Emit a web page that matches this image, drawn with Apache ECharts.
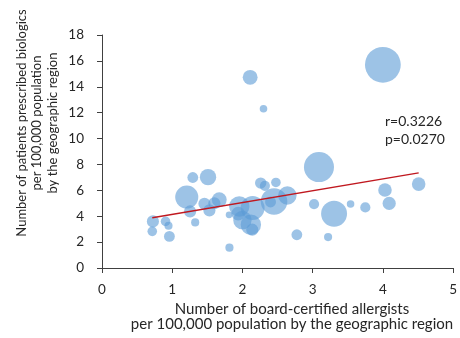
<!DOCTYPE html>
<html>
<head>
<meta charset="utf-8">
<script src="https://cdn.jsdelivr.net/npm/echarts@6/dist/echarts.min.js"></script>
<style>
  html, body { margin: 0; padding: 0; background: #fff; }
  #chart { width: 460px; height: 338px; }
</style>
</head>
<body>
<div id="chart"></div>
<script>
// Allergists per 100,000 population (x) for each region
const allergists = [
  4.00, 2.11, 2.30, 3.09, 4.51, 4.03, 4.09, 3.75, 3.54, 3.305,
  3.22, 3.02, 2.775, 1.815, 0.96, 0.716, 0.725, 0.905, 0.947, 1.327,
  1.293, 1.51, 1.207, 1.255, 1.459, 1.53, 1.67, 1.60, 1.81, 1.955,
  2.00, 2.12, 2.14, 2.145, 2.26, 2.32, 2.477, 2.64, 2.45, 2.40,
  1.94
];
// Patients prescribed biologics per 100,000 population (y)
const biologics = [
  15.7, 14.73, 12.3, 7.8, 6.48, 6.02, 4.99, 4.68, 4.94, 4.19,
  2.39, 4.94, 2.57, 1.57, 2.44, 2.83, 3.6, 3.6, 3.26, 3.52,
  6.99, 7.02, 5.48, 4.37, 4.96, 4.45, 5.27, 5.0, 4.11, 4.75,
  3.7, 3.34, 2.96, 4.63, 6.56, 6.35, 6.61, 5.6, 5.14, 5.1,
  4.2
];
// Regional population (millions), shown as bubble area
const population = [
  13.9, 2.4, 0.62, 9.8, 2.0, 2.0, 1.9, 1.13, 0.62, 7.3,
  0.72, 1.13, 1.27, 0.72, 1.27, 1.0, 1.6, 1.0, 0.72, 0.72,
  1.27, 2.9, 5.8, 1.6, 1.6, 1.6, 2.4, 1.6, 0.49, 4.5,
  3.7, 4.5, 1.6, 6.2, 1.4, 1.13, 1.0, 3.7, 7.65, 1.3,
  2.0
];
// Fitted trend line y = a + b x
const trendIntercept = 3.236;
const trendSlope = 0.912;
const statsText = ['r=0.3226', 'p=0.0270'];

const xTicks = [0, 1, 2, 3, 4, 5];
const yTicks = [0, 2, 4, 6, 8, 10, 12, 14, 16, 18];

const points = allergists.map((x, i) => [x, biologics[i], population[i]]);
const xMinData = Math.min(...allergists);
const xMaxData = Math.max(...allergists);
const trend = [
  [xMinData, trendIntercept + trendSlope * xMinData],
  [xMaxData, trendIntercept + trendSlope * xMaxData]
];

const FONT = 'Lato';
const TXT = '#262626';

const chart = echarts.init(document.getElementById('chart'), null, { renderer: 'canvas' });
chart.setOption({
  animation: false,
  textStyle: { fontFamily: FONT },
  grid: { left: 102, right: 6, top: 35, bottom: 70, containLabel: false },
  xAxis: {
    type: 'value',
    min: xTicks[0], max: xTicks[xTicks.length - 1], interval: 1,
    axisLine: { lineStyle: { color: '#404040', width: 1 } },
    axisTick: { show: true, length: 5, lineStyle: { color: '#404040' } },
    axisLabel: { color: TXT, fontSize: 13.5, fontFamily: FONT, margin: 15 },
    splitLine: { show: false }
  },
  yAxis: {
    type: 'value',
    min: yTicks[0], max: yTicks[yTicks.length - 1], interval: 2,
    axisLine: { show: true, lineStyle: { color: '#404040', width: 1 } },
    axisTick: { show: true, length: 5, lineStyle: { color: '#404040' } },
    axisLabel: { color: TXT, fontSize: 13.5, fontFamily: FONT, margin: 18 },
    splitLine: { show: false }
  },
  series: [
    {
      type: 'scatter',
      data: points,
      symbolSize: d => 9.6 * Math.sqrt(d[2]),
      itemStyle: { color: 'rgba(91,155,213,0.75)' },
      z: 2
    },
    {
      type: 'line',
      data: trend,
      symbol: 'none',
      lineStyle: { color: '#C0181F', width: 1.5 },
      z: 3
    }
  ],
  graphic: [
    {
      type: 'text', left: 385, top: 112,
      style: { text: statsText.join('\n'), fill: TXT, font: '14px ' + FONT, lineHeight: 18 }
    },
    {
      type: 'text', x: 292, y: 317,
      style: {
        text: 'Number of board-certified allergists\nper 100,000 population by the geographic region',
        fill: TXT, font: '15px ' + FONT, align: 'center', verticalAlign: 'middle', lineHeight: 15
      }
    },
    {
      type: 'text', x: 37, y: 123, rotation: Math.PI / 2,
      style: {
        text: 'Number of patients prescribed biologics\nper 100,000 population\nby the geographic region',
        fill: TXT, font: '13px ' + FONT, align: 'center', verticalAlign: 'middle', lineHeight: 15.5
      }
    }
  ]
});
</script>
</body>
</html>
